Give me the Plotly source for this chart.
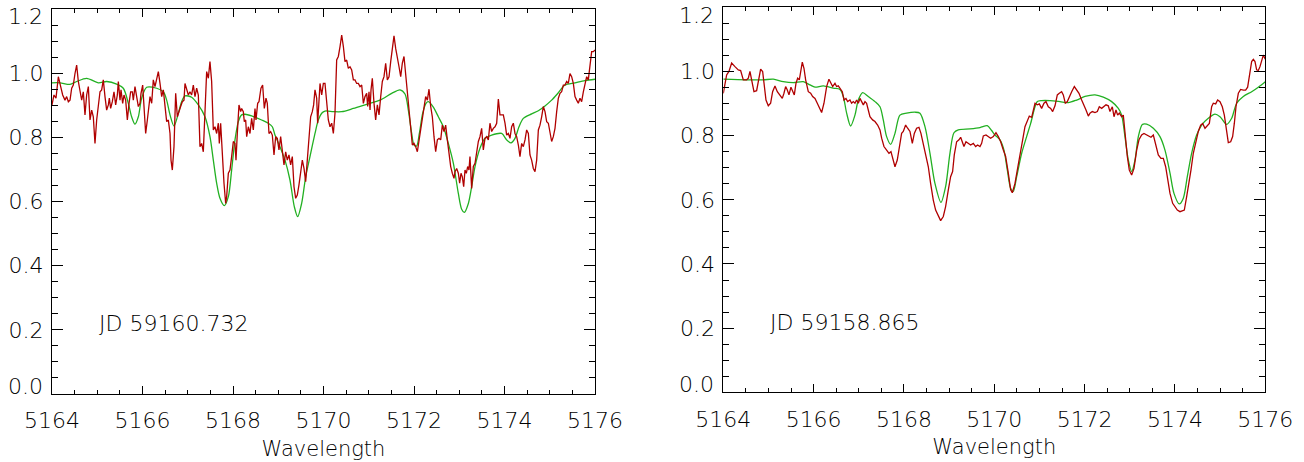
import plotly.graph_objects as go

# ---------------- data (wavelength in Angstrom, normalised flux) ----------------
obs_left = [
    (5164.000,0.901),(5164.044,0.932),(5164.088,0.922),(5164.140,0.989),(5164.192,0.958),(5164.236,0.932),
    (5164.287,0.916),(5164.324,0.927),(5164.361,0.911),(5164.398,0.916),(5164.435,0.953),(5164.471,0.963),
    (5164.508,0.999),(5164.545,1.025),(5164.582,0.974),(5164.619,0.937),(5164.656,0.916),(5164.692,0.942),
    (5164.729,0.870),(5164.766,0.932),(5164.803,0.958),(5164.840,0.854),(5164.877,0.885),(5164.913,0.864),
    (5164.950,0.781),(5164.987,0.854),(5165.024,0.890),(5165.061,0.942),(5165.098,0.948),(5165.134,0.979),
    (5165.171,0.927),(5165.208,0.885),(5165.245,0.901),(5165.267,0.922),(5165.296,0.890),(5165.333,0.911),
    (5165.370,0.942),(5165.407,0.901),(5165.444,0.932),(5165.466,0.974),(5165.503,0.916),(5165.525,0.948),
    (5165.562,0.906),(5165.591,0.932),(5165.628,0.916),(5165.665,0.854),(5165.702,0.906),(5165.738,0.942),
    (5165.775,0.942),(5165.797,0.916),(5165.834,0.958),(5165.871,0.922),(5165.908,0.896),(5165.945,0.906),
    (5165.967,0.937),(5166.004,0.963),(5166.041,0.854),(5166.070,0.812),(5166.107,0.854),(5166.144,0.896),
    (5166.166,0.927),(5166.203,0.906),(5166.239,0.979),(5166.276,0.958),(5166.313,0.984),(5166.350,1.005),
    (5166.387,0.968),(5166.424,0.927),(5166.460,0.948),(5166.497,0.906),(5166.534,0.849),(5166.571,0.854),
    (5166.608,0.812),(5166.630,0.729),(5166.659,0.698),(5166.696,0.771),(5166.733,0.937),(5166.770,0.864),
    (5166.807,0.885),(5166.843,0.896),(5166.880,0.911),(5166.917,0.916),
    (5166.939,0.968),(5166.976,0.948),(5167.013,0.932),(5167.049,0.942),(5167.086,0.932),(5167.123,0.963),
    (5167.160,0.927),(5167.197,0.953),(5167.234,0.932),(5167.270,0.771),(5167.307,0.781),(5167.344,0.755),
    (5167.381,0.896),(5167.418,1.005),(5167.455,0.984),(5167.491,1.036),(5167.528,0.974),(5167.565,0.823),
    (5167.602,0.833),(5167.639,0.812),(5167.676,0.844),(5167.698,0.781),(5167.727,0.844),(5167.764,0.729),
    (5167.801,0.657),(5167.838,0.594),(5167.860,0.615),(5167.897,0.688),(5167.933,0.698),(5167.970,0.740),
    (5168.007,0.787),(5168.044,0.781),(5168.066,0.729),(5168.095,0.812),(5168.132,0.901),(5168.169,0.880),
    (5168.191,0.890),(5168.228,0.880),(5168.250,0.849),(5168.280,0.854),(5168.302,0.802),(5168.339,0.833),
    (5168.375,0.812),(5168.412,0.859),(5168.449,0.823),(5168.486,0.890),(5168.508,0.854),(5168.545,0.906),
    (5168.574,0.911),(5168.618,0.953),(5168.655,0.963),(5168.692,0.890),(5168.729,0.922),(5168.758,0.906),
    (5168.795,0.812),(5168.832,0.818),(5168.869,0.807),(5168.906,0.745),(5168.943,0.802),(5168.979,0.797),
    (5169.016,0.761),(5169.053,0.802),(5169.090,0.761),(5169.127,0.714),(5169.164,0.755),(5169.200,0.729),
    (5169.237,0.745),(5169.274,0.714),(5169.311,0.740),(5169.348,0.646),(5169.385,0.610),(5169.421,0.620),
    (5169.458,0.652),(5169.495,0.688),(5169.532,0.729),(5169.569,0.703),(5169.606,0.662),(5169.642,0.729),
    (5169.679,0.792),(5169.716,0.864),(5169.753,0.880),(5169.782,0.901),(5169.812,0.948),(5169.849,0.922),
    (5169.871,0.844),(5169.900,0.927),
    (5169.923,0.968),(5169.960,0.932),(5169.997,0.968),(5170.033,0.968),(5170.070,0.906),(5170.107,0.854),
    (5170.144,0.833),(5170.181,0.844),(5170.218,0.812),(5170.254,0.875),(5170.291,1.041),(5170.328,1.052),
    (5170.365,1.083),(5170.402,1.119),(5170.439,1.083),(5170.475,1.036),(5170.512,1.041),(5170.549,1.015),
    (5170.586,1.020),(5170.623,1.010),(5170.660,0.979),(5170.696,0.979),(5170.733,0.968),(5170.770,0.968),
    (5170.807,0.958),(5170.844,0.963),(5170.881,0.906),(5170.917,0.927),(5170.954,0.937),(5170.976,0.896),
    (5171.006,0.942),(5171.028,0.885),(5171.050,0.948),(5171.079,0.984),(5171.116,0.906),(5171.153,0.854),
    (5171.190,0.901),(5171.227,0.870),(5171.264,0.927),(5171.300,0.974),(5171.337,0.989),(5171.374,1.031),
    (5171.411,0.979),(5171.448,0.989),(5171.485,1.036),(5171.521,1.072),(5171.558,1.116),(5171.595,1.077),
    (5171.632,1.041),(5171.669,1.020),(5171.706,0.989),(5171.742,1.031),(5171.779,1.052),(5171.816,0.994),
    (5171.853,0.937),(5171.890,0.875),(5171.927,0.823),(5171.963,0.776),(5172.000,0.781),(5172.037,0.771),
    (5172.074,0.755),(5172.111,0.792),(5172.148,0.833),(5172.184,0.854),(5172.221,0.906),(5172.258,0.927),
    (5172.295,0.916),(5172.332,0.950),(5172.369,0.896),(5172.405,0.864),(5172.442,0.802),(5172.479,0.755),
    (5172.516,0.792),(5172.553,0.797),(5172.590,0.792),(5172.626,0.838),(5172.663,0.818),(5172.700,0.838),
    (5172.737,0.792),(5172.774,0.750),(5172.811,0.709),(5172.847,0.688),(5172.884,0.672),
    (5172.906,0.693),(5172.943,0.703),(5172.980,0.688),(5173.009,0.657),(5173.039,0.688),(5173.068,0.677),
    (5173.098,0.646),(5173.127,0.698),(5173.156,0.688),(5173.186,0.709),(5173.215,0.698),(5173.237,0.740),
    (5173.274,0.641),(5173.311,0.709),(5173.348,0.719),(5173.385,0.761),(5173.422,0.787),(5173.458,0.802),
    (5173.495,0.828),(5173.532,0.761),(5173.569,0.797),(5173.606,0.802),(5173.643,0.792),(5173.679,0.844),
    (5173.716,0.818),(5173.753,0.828),(5173.790,0.833),(5173.827,0.844),(5173.864,0.919),(5173.900,0.870),
    (5173.937,0.870),(5173.974,0.870),(5174.011,0.844),(5174.048,0.807),(5174.085,0.812),(5174.121,0.797),
    (5174.158,0.833),(5174.195,0.844),(5174.232,0.812),(5174.269,0.802),(5174.306,0.776),(5174.342,0.740),
    (5174.379,0.781),(5174.416,0.771),(5174.453,0.792),(5174.490,0.823),(5174.527,0.812),(5174.563,0.745),
    (5174.600,0.729),(5174.637,0.703),(5174.674,0.693),(5174.711,0.729),(5174.748,0.823),(5174.784,0.838),
    (5174.821,0.864),(5174.858,0.896),(5174.895,0.880),(5174.932,0.849),(5174.969,0.844),(5175.005,0.812),
    (5175.042,0.787),(5175.079,0.802),(5175.116,0.828),(5175.153,0.880),(5175.190,0.922),(5175.226,0.937),
    (5175.263,0.942),(5175.300,0.963),(5175.337,0.963),(5175.374,0.974),(5175.410,0.968),(5175.447,0.999),
    (5175.484,0.989),(5175.521,0.968),(5175.558,0.927),(5175.595,0.916),(5175.631,0.906),(5175.668,0.922),
    (5175.705,0.911),(5175.742,0.942),(5175.779,0.968),(5175.816,0.989),(5175.852,0.979),(5175.889,1.025),
    (5175.926,1.067),(5175.963,1.067),(5176.000,1.072),
]

model_left = [
    (5164.000,0.970),(5164.177,0.970),(5164.398,0.965),(5164.545,0.974),(5164.766,0.984),(5165.024,0.970),
    (5165.208,0.974),(5165.429,0.966),(5165.576,0.953),(5165.687,0.906),(5165.760,0.864),(5165.834,0.841),
    (5165.908,0.864),(5165.981,0.922),(5166.092,0.956),(5166.313,0.953),(5166.460,0.942),(5166.534,0.916),
    (5166.608,0.870),(5166.696,0.835),(5166.792,0.875),(5166.865,0.911),(5166.939,0.929),(5167.086,0.925),
    (5167.234,0.901),(5167.381,0.864),(5167.491,0.802),(5167.565,0.729),(5167.639,0.657),(5167.712,0.610),
    (5167.808,0.587),(5167.897,0.615),(5167.970,0.698),(5168.044,0.792),(5168.118,0.849),(5168.191,0.870),
    (5168.265,0.872),(5168.412,0.867),(5168.633,0.854),(5168.780,0.844),(5168.869,0.833),(5168.928,0.807),
    (5169.038,0.771),(5169.149,0.729),(5169.259,0.667),(5169.355,0.584),(5169.429,0.553),(5169.517,0.594),
    (5169.606,0.677),(5169.701,0.740),(5169.812,0.812),(5169.885,0.854),(5169.960,0.875),(5170.033,0.882),
    (5170.218,0.880),(5170.402,0.880),(5170.660,0.890),(5170.954,0.903),(5171.249,0.916),(5171.507,0.937),
    (5171.691,0.948),(5171.801,0.935),(5171.875,0.885),(5171.949,0.812),(5172.000,0.776),(5172.059,0.773),
    (5172.118,0.812),(5172.192,0.875),(5172.265,0.906),(5172.317,0.911),(5172.427,0.894),(5172.538,0.864),
    (5172.649,0.833),(5172.759,0.781),(5172.870,0.719),(5172.980,0.625),(5173.053,0.576),(5173.112,0.566),
    (5173.201,0.594),(5173.274,0.646),(5173.348,0.709),(5173.458,0.766),(5173.569,0.797),(5173.716,0.807),
    (5173.937,0.812),(5174.048,0.792),(5174.143,0.783),(5174.232,0.797),(5174.320,0.833),(5174.416,0.859),
    (5174.600,0.873),(5174.748,0.883),(5174.895,0.898),(5175.042,0.916),(5175.190,0.939),(5175.337,0.963),
    (5175.558,0.970),(5175.779,0.977),(5176.000,0.981),
]

obs_right = [
    (5164.000,0.932),(5164.037,0.963),(5164.074,0.989),(5164.125,1.000),(5164.185,1.026),(5164.258,1.015),
    (5164.332,1.005),(5164.384,1.003),(5164.443,0.974),(5164.517,0.974),(5164.554,0.979),(5164.590,1.000),
    (5164.627,0.974),(5164.679,0.937),(5164.738,0.940),(5164.790,0.974),(5164.827,1.007),(5164.871,1.000),
    (5164.908,0.963),(5164.945,0.911),(5164.996,0.893),(5165.048,0.901),(5165.092,0.937),(5165.144,0.955),
    (5165.196,0.937),(5165.255,0.927),(5165.306,0.916),(5165.343,0.932),(5165.380,0.953),(5165.417,0.942),
    (5165.454,0.927),(5165.498,0.951),(5165.535,0.937),(5165.572,0.927),(5165.609,0.963),(5165.646,0.979),
    (5165.683,0.974),(5165.712,1.005),(5165.749,1.029),(5165.786,1.010),(5165.823,0.974),(5165.882,0.937),
    (5165.934,0.932),(5165.978,0.922),(5166.030,0.916),(5166.081,0.901),(5166.140,0.885),(5166.177,0.872),
    (5166.229,0.901),(5166.288,0.953),(5166.339,0.976),(5166.376,0.963),(5166.421,0.953),(5166.472,0.963),
    (5166.509,0.953),(5166.546,0.955),(5166.583,0.948),(5166.635,0.937),(5166.672,0.911),(5166.716,0.916),
    (5166.753,0.906),(5166.804,0.911),(5166.841,0.901),(5166.878,0.906),(5166.915,0.901),(5166.952,0.911),
    (5166.989,0.901),(5167.026,0.916),(5167.063,0.906),(5167.100,0.896),(5167.137,0.906),(5167.173,0.901),
    (5167.210,0.880),(5167.247,0.859),(5167.306,0.849),(5167.358,0.844),(5167.417,0.833),(5167.469,0.818),
    (5167.506,0.792),(5167.557,0.766),(5167.616,0.755),(5167.668,0.745),(5167.712,0.750),(5167.749,0.729),
    (5167.801,0.703),(5167.852,0.724),(5167.897,0.766),(5167.948,0.807),(5167.985,0.813),(5168.037,0.833),
    (5168.081,0.823),(5168.133,0.813),(5168.185,0.776),(5168.229,0.807),(5168.280,0.823),(5168.332,0.826),
    (5168.376,0.807),(5168.428,0.776),(5168.480,0.745),(5168.539,0.703),(5168.590,0.651),(5168.649,0.599),
    (5168.701,0.568),(5168.760,0.548),(5168.812,0.535),(5168.871,0.548),(5168.922,0.579),(5168.982,0.631),
    (5169.033,0.672),(5169.077,0.688),(5169.114,0.740),(5169.166,0.781),(5169.218,0.787),(5169.255,0.795),
    (5169.291,0.781),(5169.328,0.766),(5169.373,0.781),(5169.424,0.776),(5169.476,0.771),(5169.535,0.776),
    (5169.587,0.766),(5169.631,0.771),
    (5169.683,0.766),(5169.720,0.776),(5169.757,0.799),(5169.816,0.802),(5169.868,0.797),(5169.919,0.792),
    (5169.978,0.797),(5170.037,0.809),(5170.089,0.797),(5170.141,0.781),(5170.200,0.755),(5170.251,0.735),
    (5170.310,0.683),(5170.362,0.631),(5170.399,0.622),(5170.458,0.651),(5170.510,0.693),(5170.569,0.735),
    (5170.628,0.787),(5170.679,0.828),(5170.731,0.849),(5170.775,0.861),(5170.827,0.857),(5170.864,0.880),
    (5170.901,0.901),(5170.952,0.896),(5170.997,0.899),(5171.048,0.885),(5171.100,0.901),(5171.144,0.906),
    (5171.196,0.890),(5171.248,0.885),(5171.292,0.875),(5171.344,0.893),(5171.395,0.927),(5171.439,0.932),
    (5171.491,0.937),(5171.528,0.927),(5171.572,0.901),(5171.617,0.906),(5171.661,0.922),(5171.713,0.937),
    (5171.772,0.953),(5171.823,0.942),(5171.875,0.932),(5171.934,0.911),(5171.986,0.896),(5172.030,0.880),
    (5172.082,0.861),(5172.118,0.870),(5172.170,0.875),(5172.229,0.872),(5172.281,0.875),(5172.325,0.890),
    (5172.377,0.885),(5172.428,0.890),(5172.473,0.896),(5172.524,0.893),(5172.561,0.875),(5172.613,0.890),
    (5172.650,0.859),(5172.694,0.880),(5172.731,0.864),(5172.768,0.870),(5172.820,0.859),(5172.856,0.864),
    (5172.893,0.807),(5172.945,0.735),(5172.989,0.693),(5173.041,0.677),(5173.093,0.698),(5173.152,0.755),
    (5173.203,0.787),(5173.262,0.802),(5173.314,0.807),(5173.373,0.802),(5173.425,0.797),(5173.469,0.795),
    (5173.521,0.802),(5173.572,0.776),(5173.631,0.740),(5173.690,0.729),(5173.742,0.729),(5173.794,0.703),
    (5173.838,0.662),(5173.890,0.620),(5173.949,0.589),(5174.000,0.579),(5174.052,0.568),(5174.111,0.563),
    (5174.163,0.566),(5174.207,0.568),(5174.259,0.610),(5174.310,0.651),(5174.355,0.693),(5174.406,0.745),
    (5174.465,0.787),(5174.517,0.813),(5174.569,0.833),(5174.613,0.838),(5174.665,0.823),(5174.716,0.833),
    (5174.761,0.838),(5174.812,0.890),(5174.849,0.901),(5174.901,0.899),(5174.945,0.911),(5174.997,0.906),
    (5175.048,0.890),(5175.093,0.864),(5175.130,0.828),(5175.181,0.778),(5175.233,0.781),(5175.277,0.797),
    (5175.314,0.838),(5175.351,0.890),(5175.403,0.932),(5175.454,0.944),(5175.513,0.942),(5175.565,0.942),
    (5175.609,0.951),(5175.646,0.984),(5175.698,1.031),(5175.735,1.038),(5175.772,1.031),(5175.808,1.005),
    (5175.845,1.003),(5175.882,1.015),(5175.919,1.036),(5175.956,1.051),(5176.000,1.038),
]

model_right = [
    (5164.000,0.976),(5164.517,0.974),(5164.886,0.974),(5165.107,0.976),(5165.328,0.968),(5165.550,0.965),
    (5165.771,0.968),(5165.919,0.958),(5166.030,0.951),(5166.214,0.955),(5166.435,0.948),(5166.583,0.944),
    (5166.657,0.922),(5166.731,0.870),(5166.819,0.830),(5166.915,0.864),(5166.989,0.911),(5167.085,0.934),
    (5167.210,0.922),(5167.358,0.906),(5167.469,0.890),(5167.542,0.849),(5167.616,0.797),(5167.705,0.773),
    (5167.801,0.807),(5167.911,0.864),(5168.059,0.870),(5168.244,0.873),(5168.354,0.870),(5168.465,0.828),
    (5168.576,0.745),(5168.686,0.651),(5168.819,0.592),(5168.922,0.641),(5169.018,0.745),(5169.107,0.809),
    (5169.203,0.818),(5169.461,0.821),(5169.683,0.825),(5169.845,0.831),(5169.941,0.816),(5170.015,0.802),
    (5170.126,0.787),(5170.214,0.755),(5170.288,0.693),(5170.362,0.636),(5170.421,0.626),(5170.495,0.672),
    (5170.606,0.745),(5170.716,0.797),(5170.805,0.838),(5170.901,0.890),(5170.952,0.906),(5171.048,0.909),
    (5171.233,0.909),(5171.454,0.906),(5171.639,0.903),(5171.823,0.911),(5172.008,0.922),(5172.229,0.927),
    (5172.414,0.920),(5172.598,0.906),(5172.746,0.885),(5172.820,0.864),(5172.893,0.797),(5172.967,0.724),
    (5173.041,0.688),(5173.115,0.724),(5173.189,0.797),(5173.277,0.835),(5173.373,0.836),(5173.521,0.823),
    (5173.668,0.797),(5173.779,0.755),(5173.890,0.683),(5173.978,0.620),(5174.096,0.587),(5174.185,0.605),
    (5174.273,0.672),(5174.369,0.745),(5174.480,0.802),(5174.591,0.833),(5174.738,0.854),(5174.886,0.867),
    (5174.997,0.859),(5175.144,0.835),(5175.255,0.854),(5175.366,0.901),(5175.513,0.922),(5175.698,0.937),
    (5175.845,0.951),(5176.000,0.968),
]

x_tick_values = [5164, 5166, 5168, 5170, 5172, 5174, 5176]
y_tick_values = [0.0, 0.2, 0.4, 0.6, 0.8, 1.0, 1.2]
y_tick_labels = ["0.0", "0.2", "0.4", "0.6", "0.8", "1.0", "1.2"]
epoch_labels = ["JD 59160.732", "JD 59158.865"]
x_title = "Wavelength"

# ---------------- styling ----------------
RED = "#b00000"
GREEN = "#22b022"
INK = "#000000"
FONT = "DejaVu Sans"
FW = 200
TICKFONT = dict(family=FONT, size=22, color=INK, weight=FW)

fig = go.Figure()

panels = [
    (obs_left, model_left, "x", "y"),
    (obs_right, model_right, "x2", "y2"),
]
for obs, model, xa, ya in panels:
    mw, mf = zip(*model)
    ow, of = zip(*obs)
    fig.add_trace(go.Scatter(x=mw, y=mf, mode="lines", xaxis=xa, yaxis=ya,
                             line=dict(color=GREEN, width=1.3, shape="spline", smoothing=0.8),
                             showlegend=False, hoverinfo="skip"))
    fig.add_trace(go.Scatter(x=ow, y=of, mode="lines", xaxis=xa, yaxis=ya,
                             line=dict(color=RED, width=1.3),
                             showlegend=False, hoverinfo="skip"))

W, H = 1304, 462
def xdom(l, r):
    return [l / W, r / W]
def ydom(top, bottom):
    return [1 - bottom / H, 1 - top / H]

def xaxis_cfg(dom, anchor):
    return dict(domain=dom, anchor=anchor, range=[5164, 5176], tickvals=x_tick_values,
                automargin=False,
                ticks="inside", ticklen=8, tickwidth=1, tickcolor=INK,
                minor=dict(ticks="inside", ticklen=4, dtick=0.5, tick0=5164, tickcolor=INK, tickwidth=1),
                showline=True, linecolor=INK, linewidth=1, mirror="ticks",
                showgrid=False, zeroline=False,
                tickfont=TICKFONT,
                ticklabelstandoff=7, ticklabeloverflow="allow",
                title=dict(text=x_title, font=dict(family=FONT, size=21, color=INK, weight=FW), standoff=8))

# end labels (0.0 and 1.2) are drawn pulled inside the axis extent, as in the original figure
inner_text = [t if 0 < i < len(y_tick_labels) - 1 else "" for i, t in enumerate(y_tick_labels)]

def yaxis_cfg(dom, anchor):
    return dict(domain=dom, anchor=anchor, range=[0, 1.2], tickvals=y_tick_values, ticktext=inner_text,
                automargin=False,
                ticks="inside", ticklen=11, tickwidth=1, tickcolor=INK,
                minor=dict(ticks="inside", ticklen=6, dtick=0.05, tick0=0, tickcolor=INK, tickwidth=1),
                showline=True, linecolor=INK, linewidth=1, mirror="ticks",
                showgrid=False, zeroline=False,
                tickfont=TICKFONT,
                ticklabelstandoff=3, ticklabeloverflow="allow")

annotations = [
    dict(text=epoch_labels[0], x=5165.0, y=0.221, xref="x", yref="y", xanchor="left", yanchor="middle",
         showarrow=False, font=TICKFONT),
    dict(text=epoch_labels[1], x=5165.0, y=0.219, xref="x2", yref="y2", xanchor="left", yanchor="middle",
         showarrow=False, font=TICKFONT),
]
for xr, yr in (("x domain", "y"), ("x2 domain", "y2")):
    for label, value, shift in ((y_tick_labels[0], y_tick_values[0], 8), (y_tick_labels[-1], y_tick_values[-1], -8)):
        annotations.append(dict(text=label, x=0, y=value, xref=xr, yref=yr, xanchor="right", yanchor="middle",
                                xshift=-7, yshift=shift, showarrow=False, font=TICKFONT))

fig.update_layout(
    width=W, height=H,
    margin=dict(l=0, r=0, t=0, b=0),
    paper_bgcolor="white", plot_bgcolor="white",
    xaxis=xaxis_cfg(xdom(52, 595), "y"),
    yaxis=yaxis_cfg(ydom(9, 394), "x"),
    xaxis2=xaxis_cfg(xdom(723.3, 1265.3), "y2"),
    yaxis2=yaxis_cfg(ydom(7.3, 392.3), "x2"),
    annotations=annotations,
)

fig.write_html("out.html")
